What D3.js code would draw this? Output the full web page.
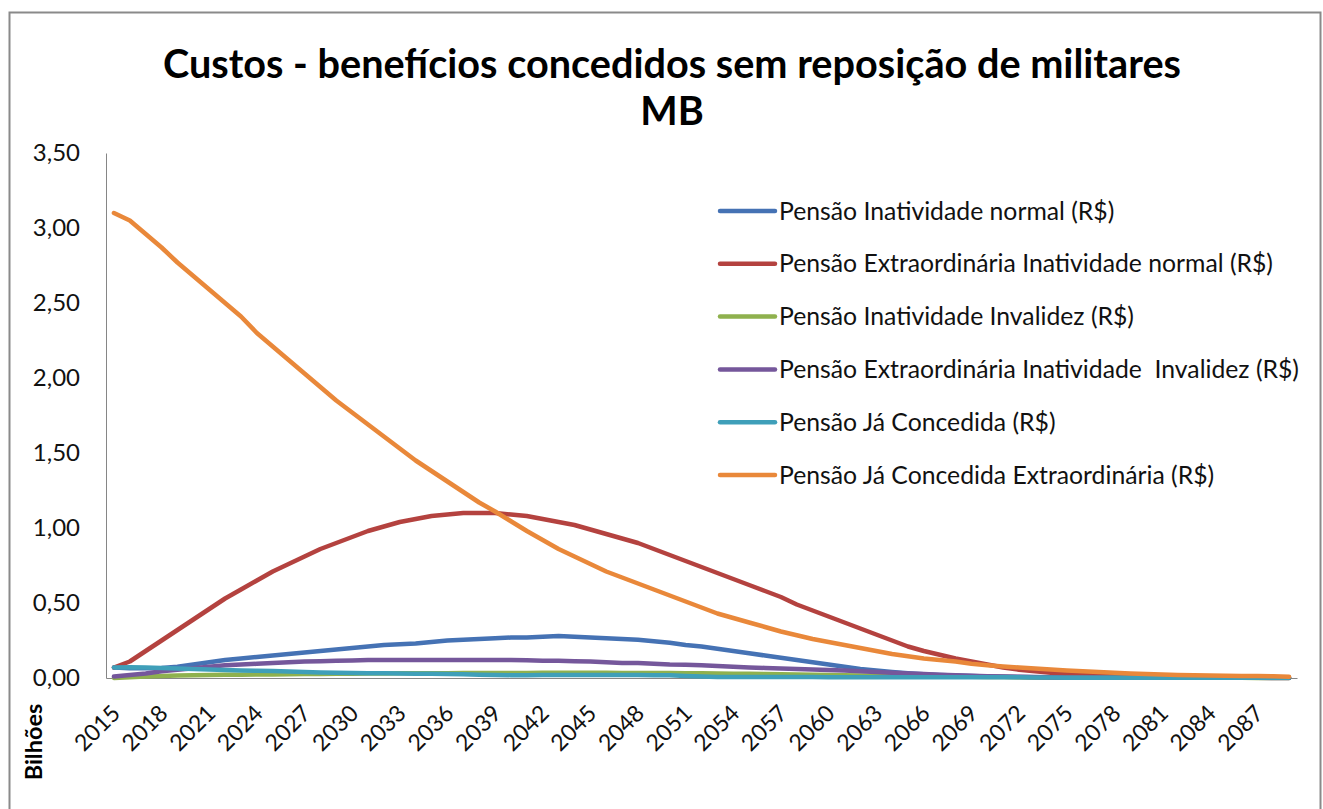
<!DOCTYPE html>
<html>
<head>
<meta charset="utf-8">
<script src="https://cdn.jsdelivr.net/npm/d3@7.9.0/dist/d3.min.js"></script>
<style>
  body { margin: 0; background: #fff; }
  svg { display: block; font-family: Lato, "Open Sans", sans-serif; }
</style>
</head>
<body>
<svg id="chart"></svg>
<script>
const width = 1323;
const height = 809;

// data: values in billions (R$)
const years = d3.range(2015, 2090);
const tickYears = d3.range(2015, 2090, 3);
const yTicks = [0, 0.5, 1, 1.5, 2, 2.5, 3, 3.5];

const seriesNames = [
  "Pensão Inatividade normal (R$)",
  "Pensão Extraordinária Inatividade normal (R$)",
  "Pensão Inatividade Invalidez (R$)",
  "Pensão Extraordinária Inatividade  Invalidez (R$)",
  "Pensão Já Concedida (R$)",
  "Pensão Já Concedida Extraordinária (R$)"
];
const seriesColors = ["#4572b4", "#b4423f", "#8fb14e", "#75579b", "#3f9fb9", "#e9883a"];

const inatNormal = [
  0.070, 0.065, 0.065, 0.066, 0.075, 0.090, 0.105, 0.120, 0.130, 0.140,
  0.150, 0.160, 0.170, 0.180, 0.190, 0.200, 0.210, 0.220, 0.225, 0.230,
  0.240, 0.250, 0.255, 0.260, 0.265, 0.270, 0.270, 0.275, 0.280, 0.275,
  0.270, 0.265, 0.260, 0.255, 0.245, 0.235, 0.220, 0.210, 0.195, 0.180,
  0.165, 0.150, 0.135, 0.120, 0.105, 0.090, 0.075, 0.060, 0.050, 0.040,
  0.032, 0.025, 0.020, 0.016, 0.013, 0.010, 0.008, 0.006, 0.005, 0.004,
  0.004, 0.003, 0.003, 0.002, 0.002, 0.002, 0.002, 0.001, 0.001, 0.001,
  0.001, 0.001, 0.001, 0.001, 0.001
];
const extraInatNormal = [
  0.070, 0.110, 0.180, 0.250, 0.320, 0.390, 0.460, 0.530, 0.590, 0.650,
  0.710, 0.760, 0.810, 0.860, 0.900, 0.940, 0.980, 1.010, 1.040, 1.060,
  1.080, 1.090, 1.100, 1.100, 1.100, 1.090, 1.080, 1.060, 1.040, 1.020,
  0.990, 0.960, 0.930, 0.900, 0.860, 0.820, 0.780, 0.740, 0.700, 0.660,
  0.620, 0.580, 0.540, 0.490, 0.450, 0.410, 0.370, 0.330, 0.290, 0.250,
  0.210, 0.180, 0.155, 0.130, 0.110, 0.090, 0.070, 0.055, 0.045, 0.035,
  0.028, 0.022, 0.018, 0.015, 0.012, 0.010, 0.009, 0.008, 0.007, 0.006,
  0.005, 0.004, 0.003, 0.003, 0.002
];
const inatInvalidez = [
  0.000, 0.005, 0.010, 0.013, 0.016, 0.018, 0.020, 0.021, 0.022, 0.023,
  0.024, 0.025, 0.026, 0.027, 0.028, 0.029, 0.030, 0.030, 0.031, 0.031,
  0.032, 0.032, 0.033, 0.033, 0.034, 0.034, 0.034, 0.035, 0.035, 0.035,
  0.035, 0.035, 0.034, 0.034, 0.034, 0.033, 0.032, 0.031, 0.030, 0.029,
  0.028, 0.026, 0.025, 0.023, 0.022, 0.020, 0.018, 0.017, 0.015, 0.014,
  0.013, 0.011, 0.010, 0.009, 0.008, 0.007, 0.006, 0.005, 0.004, 0.004,
  0.003, 0.003, 0.002, 0.002, 0.002, 0.001, 0.001, 0.001, 0.001, 0.001,
  0.001, 0.001, 0.000, 0.000, 0.000
];
const extraInatInvalidez = [
  0.010, 0.020, 0.030, 0.045, 0.055, 0.065, 0.075, 0.085, 0.090, 0.095,
  0.100, 0.105, 0.110, 0.112, 0.115, 0.117, 0.120, 0.120, 0.120, 0.120,
  0.120, 0.120, 0.120, 0.120, 0.120, 0.120, 0.118, 0.115, 0.115, 0.112,
  0.110, 0.105, 0.100, 0.100, 0.095, 0.090, 0.088, 0.085, 0.080, 0.075,
  0.070, 0.067, 0.064, 0.060, 0.057, 0.053, 0.050, 0.045, 0.040, 0.035,
  0.030, 0.026, 0.022, 0.018, 0.015, 0.012, 0.010, 0.008, 0.006, 0.005,
  0.004, 0.003, 0.003, 0.002, 0.002, 0.002, 0.001, 0.001, 0.001, 0.001,
  0.001, 0.001, 0.001, 0.000, 0.000
];
const jaConcedida = [
  0.070, 0.072, 0.070, 0.067, 0.063, 0.060, 0.057, 0.054, 0.050, 0.048,
  0.046, 0.043, 0.040, 0.037, 0.035, 0.033, 0.032, 0.031, 0.030, 0.029,
  0.028, 0.027, 0.025, 0.022, 0.020, 0.019, 0.019, 0.020, 0.020, 0.020,
  0.020, 0.020, 0.020, 0.020, 0.019, 0.018, 0.014, 0.010, 0.007, 0.006,
  0.006, 0.006, 0.006, 0.006, 0.006, 0.005, 0.005, 0.005, 0.005, 0.005,
  0.005, 0.005, 0.005, 0.005, 0.005, 0.005, 0.005, 0.005, 0.004, 0.003,
  0.002, 0.002, 0.002, 0.002, 0.002, 0.002, 0.002, 0.002, 0.002, 0.002,
  0.002, 0.002, 0.002, 0.002, 0.002
];
const jaConcedidaExtra = [
  3.100, 3.050, 2.960, 2.870, 2.770, 2.680, 2.590, 2.500, 2.410, 2.300,
  2.210, 2.120, 2.030, 1.940, 1.850, 1.770, 1.690, 1.610, 1.530, 1.450,
  1.380, 1.310, 1.240, 1.170, 1.110, 1.045, 0.980, 0.920, 0.860, 0.810,
  0.760, 0.710, 0.670, 0.630, 0.590, 0.550, 0.510, 0.470, 0.430, 0.400,
  0.370, 0.340, 0.310, 0.285, 0.260, 0.240, 0.220, 0.200, 0.180, 0.160,
  0.145, 0.130, 0.120, 0.110, 0.095, 0.085, 0.077, 0.070, 0.063, 0.056,
  0.050, 0.045, 0.040, 0.035, 0.030, 0.026, 0.023, 0.020, 0.018, 0.016,
  0.015, 0.014, 0.013, 0.011, 0.009
];

const allSeries = [inatNormal, extraInatNormal, inatInvalidez, extraInatInvalidez, jaConcedida, jaConcedidaExtra];

const svg = d3.select("#chart").attr("width", width).attr("height", height);

svg.append("rect")
  .attr("x", 9.5).attr("y", 12.5)
  .attr("width", 1311).attr("height", 830)
  .attr("fill", "#fff")
  .attr("stroke", "#8a8a8a")
  .attr("stroke-width", 2);

const plot = { left: 106, right: 1297, top: 153, bottom: 678 };

const x = d3.scalePoint().domain(years).range([plot.left, plot.right]).padding(0.5);
const y = d3.scaleLinear().domain([0, 3.5]).range([plot.bottom, plot.top]);

const ptBR = d3.formatLocale({ decimal: ",", thousands: ".", grouping: [3], currency: ["R$", ""] });
const fmt = ptBR.format(".2f");

// fit a text element to a width measured on the reference
function fitWidth(sel, target) {
  const len = sel.node().getComputedTextLength();
  const fs = parseFloat(sel.attr("font-size"));
  sel.attr("font-size", (fs * target / len).toFixed(2));
}

// title
const t1 = svg.append("text")
  .attr("x", 672).attr("y", 78)
  .attr("text-anchor", "middle")
  .attr("font-weight", "bold")
  .attr("font-size", 40)
  .attr("fill", "#000")
  .text("Custos - benefícios concedidos sem reposição de militares");
fitWidth(t1, 1018);
svg.append("text")
  .attr("x", 672).attr("y", 125)
  .attr("text-anchor", "middle")
  .attr("font-weight", "bold")
  .attr("font-size", t1.attr("font-size"))
  .attr("fill", "#000")
  .text("MB");

// axes
const yAxis = svg.append("g")
  .attr("transform", `translate(${plot.left},0)`)
  .call(d3.axisLeft(y).tickValues(yTicks).tickFormat(fmt).tickSize(0).tickPadding(26));
yAxis.select(".domain").attr("stroke", "#868686");
yAxis.selectAll("text")
  .attr("font-size", 24)
  .attr("fill", "#111")
  .attr("font-family", "Lato, 'Open Sans', sans-serif");

const xAxis = svg.append("g")
  .attr("transform", `translate(0,${plot.bottom})`)
  .call(d3.axisBottom(x).tickValues([]).tickSize(0).tickSizeOuter(0));
xAxis.select(".domain").attr("stroke", "#868686");

svg.append("g")
  .selectAll("text")
  .data(tickYears)
  .join("text")
  .attr("transform", d => `translate(${x(d) + 2},${plot.bottom + 31}) rotate(-45)`)
  .attr("text-anchor", "end")
  .attr("dy", "0.35em")
  .attr("font-size", 23)
  .attr("fill", "#111")
  .text(d => d);

svg.append("text")
  .attr("transform", "translate(42,742) rotate(-90)")
  .attr("text-anchor", "middle")
  .attr("font-weight", "bold")
  .attr("font-size", 23.5)
  .attr("fill", "#000")
  .text("Bilhões");

// lines
const line = d3.line()
  .x((d, i) => x(years[i]))
  .y(d => y(d));

svg.append("g")
  .selectAll("path")
  .data(allSeries)
  .join("path")
  .attr("d", line)
  .attr("fill", "none")
  .attr("stroke", (d, i) => seriesColors[i])
  .attr("stroke-width", 4.5)
  .attr("stroke-linejoin", "round")
  .attr("stroke-linecap", "round");

// legend
const legend = svg.append("g").attr("transform", "translate(720,211)");
const rows = legend.selectAll("g")
  .data(seriesNames)
  .join("g")
  .attr("transform", (d, i) => `translate(0,${i * 52.8})`);
rows.append("line")
  .attr("x1", 0).attr("x2", 55)
  .attr("stroke", (d, i) => seriesColors[i])
  .attr("stroke-width", 4.5)
  .attr("stroke-linecap", "round");
const labels = rows.append("text")
  .attr("x", 59)
  .attr("dy", "0.35em")
  .attr("font-size", 20)
  .attr("fill", "#111")
  .style("white-space", "pre")
  .text(d => d);
const longest = d3.select(labels.nodes()[3]);
fitWidth(longest, 520);
labels.attr("font-size", longest.attr("font-size"));
</script>
</body>
</html>
